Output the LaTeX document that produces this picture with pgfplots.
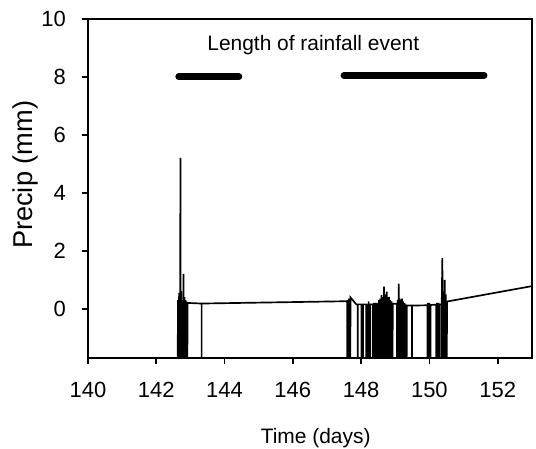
\documentclass[border=0pt]{standalone}
\usepackage{pgfplots}
\usepackage{pgfplotstable}
\pgfplotsset{compat=1.18}
\usepackage{fontspec}
\setmainfont{Liberation Sans}

% Rainfall record: values below the axis floor (-3) mark dry steps
\pgfplotstableread{
t p
142.62 -3
142.64 0.30
142.655 -3
142.67 0.55
142.685 -3
142.70 0.35
142.71 5.20
142.72 -3
142.735 0.60
142.75 -3
142.765 0.30
142.78 -3
142.80 1.20
142.815 -3
142.83 0.40
142.845 -3
142.86 0.30
142.875 -3
142.89 0.25
142.905 -3
142.92 0.20
143.33 0.18
143.33 -3
143.33 0.18
147.59 0.26
147.59 -3
147.61 0.30
147.625 -3
147.64 0.35
147.655 -3
147.67 0.30
147.68 -3
147.69 0.39
147.86 0.15
147.90 0.15
147.90 -3
147.90 0.15
148.01 0.15
148.01 -3
148.035 0.15
148.06 -3
148.06 0.15
148.15 0.15
148.15 -3
148.17 0.15
148.19 -3
148.22 0.25
148.24 -3
148.255 0.15
148.27 -3
148.27 0.15
148.35 0.15
148.35 -3
148.37 0.20
148.39 -3
148.41 0.20
148.43 -3
148.45 0.20
148.47 -3
148.47 0.15
148.50 0.15
148.50 -3
148.52 0.30
148.54 -3
148.56 0.35
148.58 -3
148.60 0.47
148.62 -3
148.64 0.40
148.655 -3
148.67 0.76
148.685 -3
148.70 0.50
148.715 -3
148.73 0.45
148.745 -3
148.75 0.59
148.765 -3
148.78 0.40
148.795 -3
148.82 0.41
148.835 -3
148.85 0.30
148.87 -3
148.89 0.25
148.91 -3
148.93 0.17
149.05 0.17
149.05 -3
149.07 0.30
149.085 -3
149.10 0.87
149.115 -3
149.13 0.35
149.145 -3
149.16 0.30
149.175 -3
149.20 0.35
149.215 -3
149.23 0.25
149.25 -3
149.27 0.20
149.29 -3
149.31 0.15
149.33 -3
149.34 0.11
149.49 0.11
149.49 -3
149.49 0.11
149.94 0.12
149.94 -3
149.96 0.20
149.98 -3
150.00 0.20
150.03 -3
150.03 0.13
150.20 0.14
150.20 -3
150.22 0.20
150.245 -3
150.27 0.20
150.29 -3
150.29 0.15
150.35 0.15
150.35 -3
150.365 0.50
150.38 1.75
150.395 -3
150.41 0.60
150.425 -3
150.45 1.00
150.465 -3
150.48 0.50
150.50 -3
150.52 0.25
153.00 0.78
}\precip

\begin{document}
\begin{tikzpicture}
\begin{axis}[
  scale only axis,
  width=212pt, height=162pt,
  xmin=140, xmax=153, ymin=-1.7, ymax=10,
  xtick={140,142,...,152},
  ytick={0,2,...,10},
  tick align=outside,
  tick pos=left,
  major tick length=3pt,
  axis line style={line width=0.8pt},
  every tick/.style={line width=0.8pt, black},
  /pgf/number format/assume math mode=true,
  /pgf/number format/1000 sep={},
  ticklabel style={font=\fontsize{10.5}{12}\selectfont},
  xticklabel style={yshift=-5pt},
  yticklabel style={xshift=-4pt},
  xlabel={Time (days)},
  ylabel={Precip (mm)},
  xlabel style={at={(axis description cs:0.513,-0.235)}, anchor=center,
    font=\fontsize{10}{12}\selectfont},
  ylabel style={at={(axis description cs:-0.14,0.54)}, anchor=center,
    font=\fontsize{13}{15}\selectfont},
]
\addplot[black, line width=0.8pt, line join=miter] table[x=t, y=p] {\precip};
% duration of each rainfall event
\addplot[black, line width=3.3pt, line cap=round] coordinates {(142.66,8.0) (144.42,8.0)};
\addplot[black, line width=3.3pt, line cap=round] coordinates {(147.50,8.05) (151.60,8.05)};
\node[font=\fontsize{10}{12}\selectfont] at (axis cs:146.6,9.1) {Length of rainfall event};
\end{axis}
\pgfresetboundingbox
\path ([shift={(-42pt,-43pt)}]current axis.south west) rectangle ([shift={(2pt,9pt)}]current axis.north east);
\end{tikzpicture}
\end{document}
